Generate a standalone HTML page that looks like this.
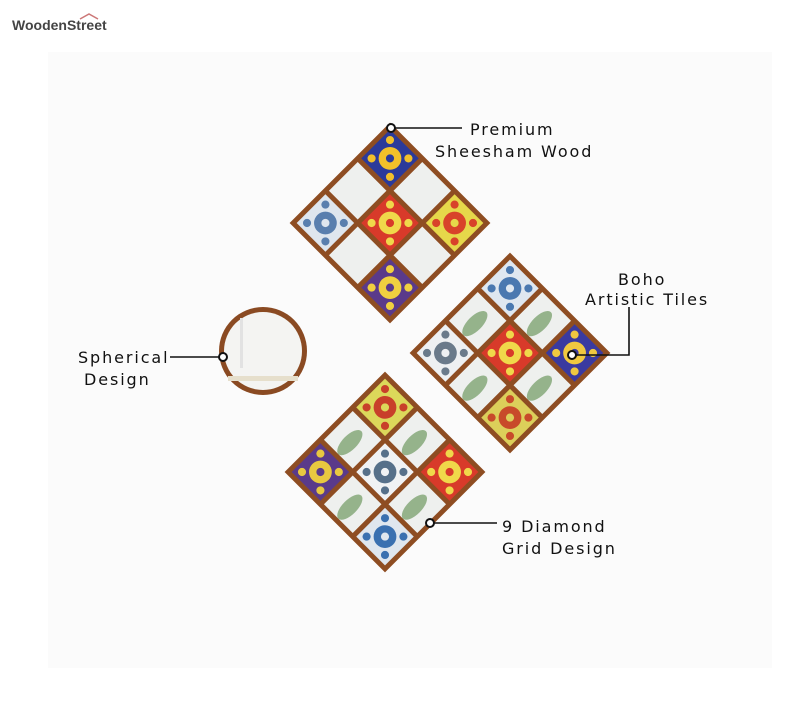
<!DOCTYPE html>
<html><head><meta charset="utf-8"><style>
html,body{margin:0;padding:0;background:#fff;}
svg{display:block}
text{font-family:"DejaVu Sans","Liberation Sans",sans-serif;fill:#111;}
</style></head><body>
<svg id="s" width="810" height="702" viewBox="0 0 810 702" xmlns="http://www.w3.org/2000/svg">
<rect x="0" y="0" width="810" height="702" fill="#ffffff"/>
<rect x="48" y="52" width="724" height="616" fill="#fbfbfb"/>
<text x="12" y="30" style="font-family:'Liberation Sans',sans-serif;font-weight:bold;font-size:14px;fill:#444">WoodenStreet</text>
<path d="M80 19 L89 14 L98 19" stroke="#c77" stroke-width="1.5" fill="none"/>
<circle cx="263" cy="351" r="44" fill="#8a4a22"/>
<circle cx="263" cy="351" r="39" fill="#f4f4f2"/>
<rect x="240" y="318" width="3" height="50" fill="#e2e2e2"/>
<rect x="228" y="376" width="70" height="5" fill="#e6dfcc"/>
<g id="d"></g>
<g stroke="#111" stroke-width="1.6" fill="none">
<line x1="391" y1="128" x2="462" y2="128"/>
<polyline points="572,355 629,355 629,307"/>
<line x1="170" y1="357" x2="222" y2="357"/>
<line x1="430" y1="523" x2="497" y2="523"/>
</g>
<g fill="#fff" stroke="#111" stroke-width="2">
<circle cx="391" cy="128" r="4"/>
<circle cx="572" cy="355" r="4"/>
<circle cx="223" cy="357" r="4"/>
<circle cx="430" cy="523" r="4"/>
</g>
<g font-size="16" letter-spacing="1.9">
<text x="470" y="135">Premium</text>
<text x="435" y="157">Sheesham Wood</text>
<text x="618" y="285">Boho</text>
<text x="585" y="305">Artistic Tiles</text>
<text x="78" y="363">Spherical</text>
<text x="84" y="385">Design</text>
<text x="502" y="532">9 Diamond</text>
<text x="502" y="554">Grid Design</text>
</g>
</svg>
<script>
var g=document.getElementById('d');
var ns='http://www.w3.org/2000/svg';
function el(t,a,p){var e=document.createElementNS(ns,t);for(var k in a)e.setAttribute(k,a[k]);p.appendChild(e);return e;}
var tiles=[
 [['#2b3a9a','#f2c02a'],['#dfe6ee','#5a7fae'],['#d83a2a','#f0d84a'],['#e6d84a','#d8432a'],['#5a3a8a','#f0d040']],
 [['#dfe7f0','#4a78b0'],['#eef0f2','#6a7a8a'],['#d83a2a','#f0d84a'],['#3a3aa0','#f0c840'],['#dccf5a','#c84a2a']],
 [['#dcd85a','#c8402a'],['#5a3a8a','#e8c840'],['#f0f2f4','#56708a'],['#d83a2a','#f0d84a'],['#dfe6ee','#3a70b0']]
];
var ds=[[390,223],[510,353],[385,472]];
ds.forEach(function(c,i){
 var gg=el('g',{transform:'translate('+c[0]+','+c[1]+') rotate(45)'},g);
 var s=71;
 el('rect',{x:-s,y:-s,width:2*s,height:2*s,fill:'#8e4d22'},gg);
 var f=5,cw=(2*s-4*f)/3;
 var order={'0,0':0,'2,0':1,'1,1':2,'0,2':3,'2,2':4};
 for(var r=0;r<3;r++)for(var q=0;q<3;q++){
  var x=-s+f+q*(cw+f),y=-s+f+r*(cw+f);
  var k=order[r+','+q];
  if(k!==undefined){
   var t=tiles[i][k];
   el('rect',{x:x,y:y,width:cw,height:cw,fill:t[0]},gg);
   el('circle',{cx:x+cw/2,cy:y+cw/2,r:cw*0.28,fill:t[1]},gg);
   el('circle',{cx:x+cw/2,cy:y+cw/2,r:cw*0.1,fill:t[0]},gg);
   [[0.18,0.18],[0.82,0.18],[0.18,0.82],[0.82,0.82]].forEach(function(p){el('circle',{cx:x+cw*p[0],cy:y+cw*p[1],r:cw*0.1,fill:t[1]},gg);});
  } else {
   el('rect',{x:x,y:y,width:cw,height:cw,fill:'#eef0ee'},gg);
   if(i>0) el('ellipse',{cx:x+cw*0.5,cy:y+cw*0.6,rx:cw*0.18,ry:cw*0.4,fill:'#5a8a4a',opacity:0.6},gg);
  }
 }
});
</script>
</body></html>
